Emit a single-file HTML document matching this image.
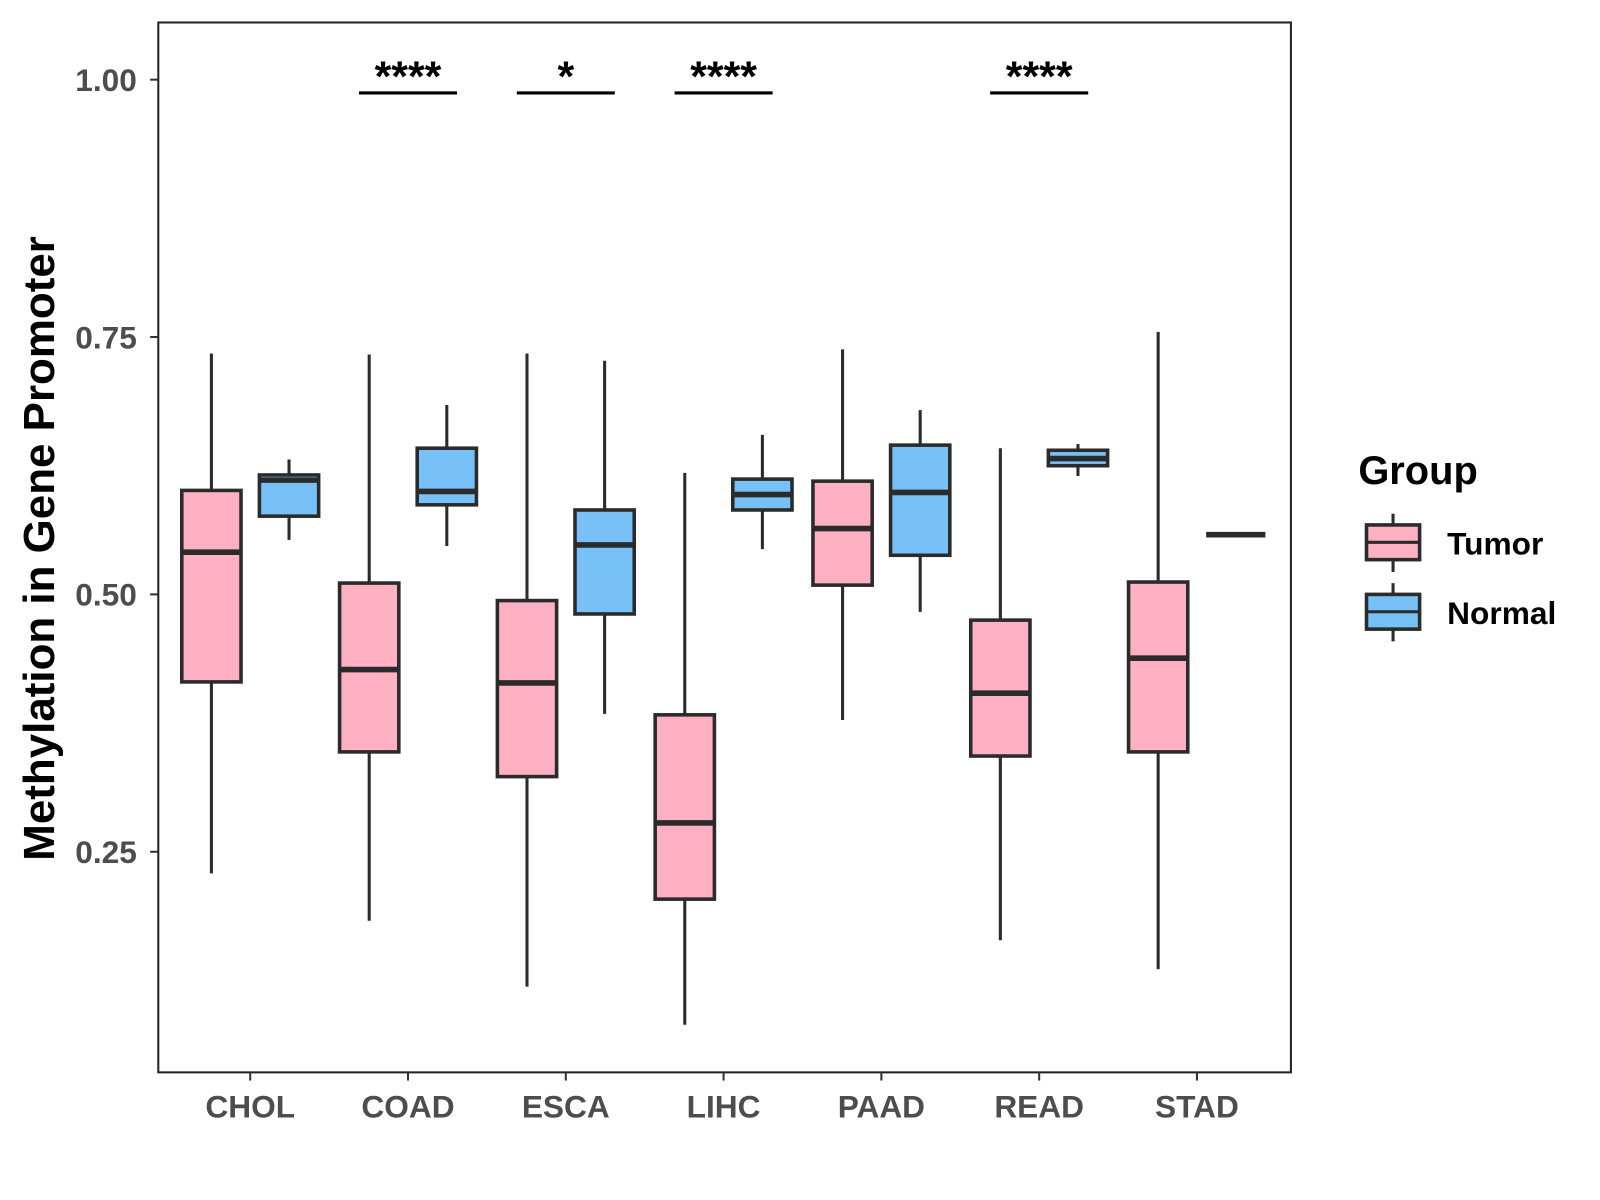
<!DOCTYPE html>
<html><head><meta charset="utf-8"><style>
body{margin:0;background:#fff;}
svg{display:block;font-family:"Liberation Sans",Arial,sans-serif;}
</style></head><body>
<svg id="chart" width="1600" height="1200" viewBox="0 0 1600 1200">
<g transform="scale(1.0213)">
<rect x="155" y="22" width="1109" height="1028" fill="#fff" stroke="#222" stroke-width="2"/>
<g id="yaxis"></g>
<g id="xaxis"></g>
<g id="boxes"></g>
<g id="sig"></g>
<text x="53" y="537" transform="rotate(-90 53 537)" text-anchor="middle" font-size="43" font-weight="bold" fill="#000">Methylation in Gene Promoter</text>
<g>
<text x="1330" y="474" font-size="39" font-weight="bold" fill="#000">Group</text>
<g>
<line x1="1364" y1="503" x2="1364" y2="560" stroke="#2b2b2b" stroke-width="3"/>
<rect x="1338" y="514" width="52" height="34" fill="#FFB0C2" stroke="#2b2b2b" stroke-width="3.5"/>
<line x1="1338" y1="531" x2="1390" y2="531" stroke="#2b2b2b" stroke-width="3"/>
<text x="1417" y="543" font-size="31" font-weight="bold" fill="#000">Tumor</text>
</g>
<g>
<line x1="1364" y1="571" x2="1364" y2="628" stroke="#2b2b2b" stroke-width="3"/>
<rect x="1338" y="582" width="52" height="34" fill="#78C1F8" stroke="#2b2b2b" stroke-width="3.5"/>
<line x1="1338" y1="599" x2="1390" y2="599" stroke="#2b2b2b" stroke-width="3"/>
<text x="1417" y="611" font-size="31" font-weight="bold" fill="#000">Normal</text>
</g>
</g>
</g>
</svg>
<script>
const categories=["CHOL","COAD","ESCA","LIHC","PAAD","READ","STAD"];
// [whiskerHigh, whiskerLow, q3, q1, median]
const tumorStats=[[0.734,0.229,0.601,0.415,0.541],[0.733,0.183,0.511,0.347,0.427],[0.734,0.119,0.494,0.323,0.414],[0.618,0.082,0.383,0.204,0.278],[0.738,0.378,0.610,0.509,0.564],[0.642,0.164,0.475,0.343,0.404],[0.755,0.136,0.512,0.347,0.438]];
const normalStats=[[0.631,0.553,0.616,0.576,0.611],[0.684,0.547,0.642,0.587,0.600],[0.727,0.384,0.582,0.481,0.548],[0.655,0.544,0.612,0.582,0.597],[0.679,0.483,0.645,0.538,0.599],[0.646,0.615,0.640,0.625,0.632],[0.558,0.558,0.558,0.558,0.558]];
const yTicks=[0.25,0.50,0.75,1.00];
const yTickLabels=["0.25","0.50","0.75","1.00"];
const sigCats=["COAD","ESCA","LIHC","READ"];
const sigLabels=["****","*","****","****"];

const NS="http://www.w3.org/2000/svg";
function y(v){return 78+(1-v)*1008;}
function x(i){return 245+i*154.5;}
function mk(parent,tag,attrs){const e=document.createElementNS(NS,tag);for(const k in attrs)e.setAttribute(k,attrs[k]);parent.appendChild(e);return e;}
const ya=document.getElementById('yaxis'),xa=document.getElementById('xaxis'),bx=document.getElementById('boxes'),sg=document.getElementById('sig');
yTicks.forEach((t,i)=>{
  const l=mk(ya,'line',{x1:147,x2:155,y1:y(t),y2:y(t),stroke:'#333','stroke-width':2});
  
  
  const tx=mk(ya,'text',{x:134,y:y(t)+11,'text-anchor':'end','font-size':31,'font-weight':'bold',fill:'#4d4d4d'});
  tx.textContent=yTickLabels[i];
  
  
});
categories.forEach((c,i)=>{
  const l=mk(xa,'line',{x1:x(i),x2:x(i),y1:1050,y2:1058,stroke:'#333','stroke-width':2});
  
  
  const tx=mk(xa,'text',{x:x(i),y:1094,'text-anchor':'middle','font-size':31,'font-weight':'bold',fill:'#4d4d4d'});
  tx.textContent=c;
  
  
});
function drawBox(cx,s,fill,name){
  const g=mk(bx,'g',{});
  
  
  const w=58;
  mk(g,'line',{x1:cx,x2:cx,y1:y(s[0]),y2:y(s[1]),stroke:'#2b2b2b','stroke-width':3});
  mk(g,'rect',{x:cx-w/2,y:y(s[2]),width:w,height:Math.max(0,y(s[3])-y(s[2])),fill:fill,stroke:'#2b2b2b','stroke-width':3.5});
  mk(g,'line',{x1:cx-w/2,x2:cx+w/2,y1:y(s[4]),y2:y(s[4]),stroke:'#2b2b2b','stroke-width':5.5});
}
categories.forEach((c,i)=>{
  drawBox(x(i)-38,tumorStats[i],'#FFB0C2','box-'+c.toLowerCase()+'-tumor');
  drawBox(x(i)+38,normalStats[i],'#78C1F8','box-'+c.toLowerCase()+'-normal');
});
sigCats.forEach((c,k)=>{
  const i=categories.indexOf(c);
  const l=mk(sg,'line',{x1:x(i)-48,x2:x(i)+48,y1:91,y2:91,stroke:'#000','stroke-width':3});
  
  
  const t=mk(sg,'text',{x:x(i),y:89,'text-anchor':'middle','font-size':42,'font-weight':'bold',fill:'#000'});
  t.textContent=sigLabels[k];
  
  
});
</script>
</body></html>
